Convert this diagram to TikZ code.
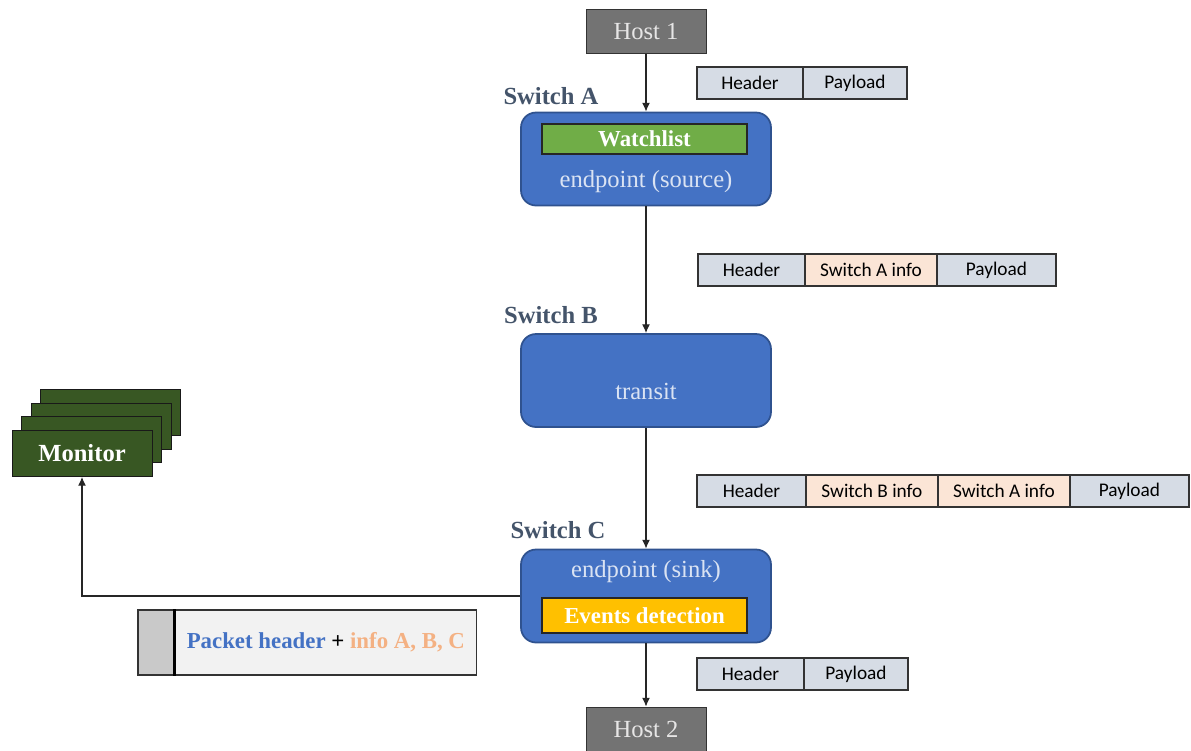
\documentclass[tikz,border=0pt]{standalone}
\usepackage{fontspec}
\setmainfont{Liberation Serif}
\newfontfamily\pktfont{Carlito}
\usetikzlibrary{positioning,arrows.meta}
\definecolor{swblue}{HTML}{4472C4}
\definecolor{swedge}{HTML}{2F528F}
\definecolor{swtext}{HTML}{DAE3F3}
\definecolor{watchgreen}{HTML}{70AD47}
\definecolor{eventgold}{HTML}{FFC000}
\definecolor{hostgray}{HTML}{737373}
\definecolor{hosttext}{HTML}{E7E6E6}
\definecolor{mongreen}{HTML}{385723}
\definecolor{lblslate}{HTML}{44546A}
\definecolor{hdrfill}{HTML}{D6DCE5}
\definecolor{infofill}{HTML}{FBE5D6}
\definecolor{infotext}{HTML}{F4B183}
\definecolor{repfill}{HTML}{F2F2F2}
\definecolor{repgray}{HTML}{C9C9C9}
\tikzset{
  host/.style={draw=black!80, fill=hostgray, text=hosttext, minimum width=2.4cm, minimum height=0.88cm, font=\fontsize{14}{16}\selectfont},
  switchbox/.style={draw=swedge, line width=1pt, fill=swblue, rounded corners=0.3cm, minimum width=5cm, minimum height=1.86cm},
  swlabel/.style={text=lblslate, font=\bfseries\fontsize{14}{16}\selectfont},
  swinner/.style={text=swtext, font=\fontsize{14}{16}\selectfont},
  tablebox/.style={draw=black!85, line width=0.9pt, text=white, minimum width=4.1cm, font=\bfseries\fontsize{13}{15}\selectfont, inner sep=0pt},
  pkt/.style={draw=black!80, line width=0.8pt, fill=hdrfill, minimum height=0.64cm, inner sep=0pt, outer sep=0pt, font=\pktfont\fontsize{11}{13}\selectfont},
  info/.style={pkt, fill=infofill, minimum width=2.64cm},
  monbox/.style={draw=black!90, fill=mongreen, minimum width=2.8cm, minimum height=0.92cm, text=white, font=\bfseries\fontsize{14}{16}\selectfont},
  flow/.style={-{Latex[length=5pt,width=4.5pt]}, draw=black!85, line width=0.7pt}
}
\begin{document}
\begin{tikzpicture}[x=0.02cm, y=-0.02cm]%[line join=round, >=stealth]
  \clip (0,0) rectangle (1191,751);
  % hosts and switches
  \node[host] (host1) at (646,31.5) {Host 1};
  \node[switchbox] (swA) at (646,159) {};
  \node[tablebox, fill=watchgreen, minimum height=0.6cm] (watch) at (644.5,139) {Watchlist};
  \node[swinner] (srcA) at (646,182) {endpoint (source)};
  \node[swlabel] (labA) at (551,96) {Switch A};

  \node[switchbox] (swB) at (646,380.5) {};
  \node[swinner] (transB) at (646,391) {transit};
  \node[swlabel] (labB) at (551,315) {Switch B};

  \node[switchbox] (swC) at (646,596) {};
  \node[swinner] (sinkC) at (646,572) {endpoint (sink)};
  \node[tablebox, fill=eventgold, minimum height=0.7cm] (events) at (644.5,615.5) {Events detection};
  \node[swlabel] (labC) at (558,530) {Switch C};

  \node[host] (host2) at (646,729) {Host 2};

  \draw[flow] (host1) -- (swA);
  \draw[flow] (swA) -- (swB);
  \draw[flow] (swB) -- (swC);
  \draw[flow] (swC) -- (host2);

  % packets
  \node[pkt, anchor=west, minimum width=2.12cm] (hdr1) at (697,83) {Header};
  \node[pkt, right=0pt of hdr1, minimum width=2.08cm] (pay1) {Payload};

  \node[pkt, anchor=west, minimum width=2.14cm] (hdr2) at (698,270) {Header};
  \node[info, right=0pt of hdr2] (infA2) {Switch A info};
  \node[pkt, right=0pt of infA2, minimum width=2.38cm] (pay2) {Payload};

  \node[pkt, anchor=west, minimum width=2.18cm] (hdr3) at (697,491) {Header};
  \node[info, right=0pt of hdr3] (infB3) {Switch B info};
  \node[info, right=0pt of infB3] (infA3) {Switch A info};
  \node[pkt, right=0pt of infA3, minimum width=2.38cm] (pay3) {Payload};

  \node[pkt, anchor=west, minimum width=2.14cm] (hdr4) at (697,674) {Header};
  \node[pkt, right=0pt of hdr4, minimum width=2.08cm] (pay4) {Payload};

  % monitor stack
  \foreach \i in {3,2,1}
    \node[monbox] (mon\i) at (82+9.5*\i,453.5-13.8*\i) {};
  \node[monbox] (mon) at (82,453.5) {Monitor};
  \draw[flow] (swC.west) -| (mon.south);

  % report to monitor
  \node[draw=black!80, line width=0.8pt, fill=repgray, minimum width=0.72cm, minimum height=1.3cm, inner sep=0pt] (repflag) at (156,642.5) {};
  \node[draw=black!80, line width=0.8pt, fill=repfill, minimum width=6.02cm, minimum height=1.3cm, anchor=west, inner sep=0pt,
        font=\bfseries\fontsize{13}{15}\selectfont] (report) at (repflag.east)
        {\textcolor{swblue}{Packet header} + \textcolor{infotext}{info A, B, C}};
  \draw[line width=1.6pt] (repflag.north east) -- (repflag.south east);
\end{tikzpicture}
\end{document}
